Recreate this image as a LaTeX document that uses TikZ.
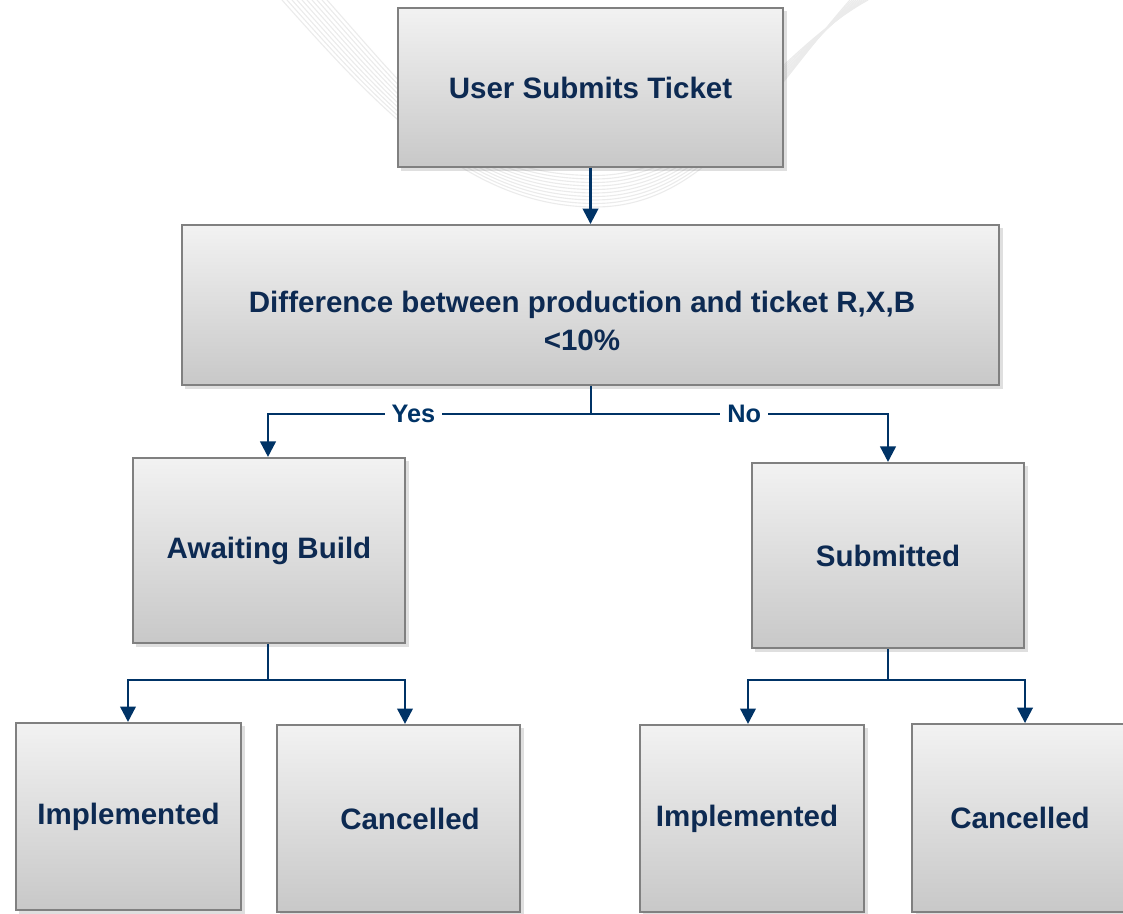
\documentclass[tikz,border=0pt]{standalone}
\usepackage{fontspec}
\setmainfont{Liberation Sans}
\usetikzlibrary{positioning,arrows.meta,shadows}

\definecolor{navy}{RGB}{0,51,102}
\definecolor{txtblue}{RGB}{13,42,82}
\definecolor{boxtop}{RGB}{242,242,242}
\definecolor{boxbot}{RGB}{200,200,200}
\definecolor{boxline}{RGB}{128,128,128}

\tikzset{
  box/.style={draw=boxline, line width=1.3pt, top color=boxtop, bottom color=boxbot,
    drop shadow={opacity=0.25, shadow xshift=2.5pt, shadow yshift=-2.5pt},
    font=\fontsize{21}{27}\selectfont\bfseries, text=txtblue, align=center, inner sep=0pt},
  boxtext/.style={font=\fontsize{21}{27}\selectfont\bfseries, text=txtblue, align=center, inner sep=0pt},
  link/.style={draw=navy, line width=1.8pt},
  arr/.style={link, -{Triangle[width=11pt,length=11pt]}},
  lbl/.style={fill=white, text=navy, font=\fontsize{18}{20}\selectfont\bfseries, inner xsep=5pt, inner ysep=2pt},
  swoosh/.style={draw=gray!16, line width=0.8pt}
}

\begin{document}
\begin{tikzpicture}[x=0.025cm,y=-0.025cm]

  \useasboundingbox (0,0) rectangle (1123,913);

  % background curves
  \foreach \i in {0,...,9}
    \draw[swoosh] (282+\i*5,0) .. controls (380+\i*5,110) and (470,207-\i*3.5) .. (595,207-\i*3.5)
      .. controls (710,207-\i*3.5) and (770,90-\i*4) .. (850+\i*2,0);

  \node[box, minimum width=9.63cm, minimum height=3.98cm] at (590.5,87.5) (ticket){User Submits Ticket};
  \node[box, minimum width=20.43cm, minimum height=4cm] at (590.5,305) (diff){};
  \node[boxtext] at (582,321) (diff_txt){Difference between production and ticket R,X,B\\<10\%};

  %==================================================

  \node[box, minimum width=6.8cm, minimum height=4.63cm] at (269,550.5) (await_b){Awaiting Build};
  \node[box, minimum width=6.8cm, minimum height=4.63cm] at (888,555.5) (subm){Submitted};

  %==================================================

  \node[box, minimum width=5.63cm, minimum height=4.68cm] at (128.5,816.5) (impl_l){Implemented};
  \node[box, minimum width=6.08cm, minimum height=4.68cm] at (398.5,818.5) (canc_l){};
  \node[boxtext] at (410,818.5) (canc_l_txt){Cancelled};
  \node[box, minimum width=5.6cm, minimum height=4.68cm] at (752,818.5) (impl_r){};
  \node[boxtext] at (747,818.5) (impl_r_txt){Implemented};
  \node[box, minimum width=5.4cm, minimum height=4.7cm] at (1020,818) (canc_r){Cancelled};

  \coordinate (split) at (591,414);
  \coordinate (split_l) at (268,680);
  \coordinate (split_r) at (888,680);

  \draw[arr] (ticket) -- (diff);

  \draw[link] (diff.south -| split) -- (split);
  \draw[arr] (split) -| node[lbl, pos=0.275] (yes){Yes} (await_b.north -| 268,0);
  \draw[arr] (split) -| node[lbl, pos=0.258] (no){No} (subm.north);

  \draw[link] (await_b.south -| split_l) -- (split_l);
  \draw[arr] (split_l) -| (impl_l.north -| 128,0);
  \draw[arr] (split_l) -| (canc_l.north -| 405,0);

  \draw[link] (subm.south) -- (split_r);
  \draw[arr] (split_r) -| (impl_r.north -| 748,0);
  \draw[arr] (split_r) -| (canc_r.north -| 1025,0);

\end{tikzpicture}
\end{document}
